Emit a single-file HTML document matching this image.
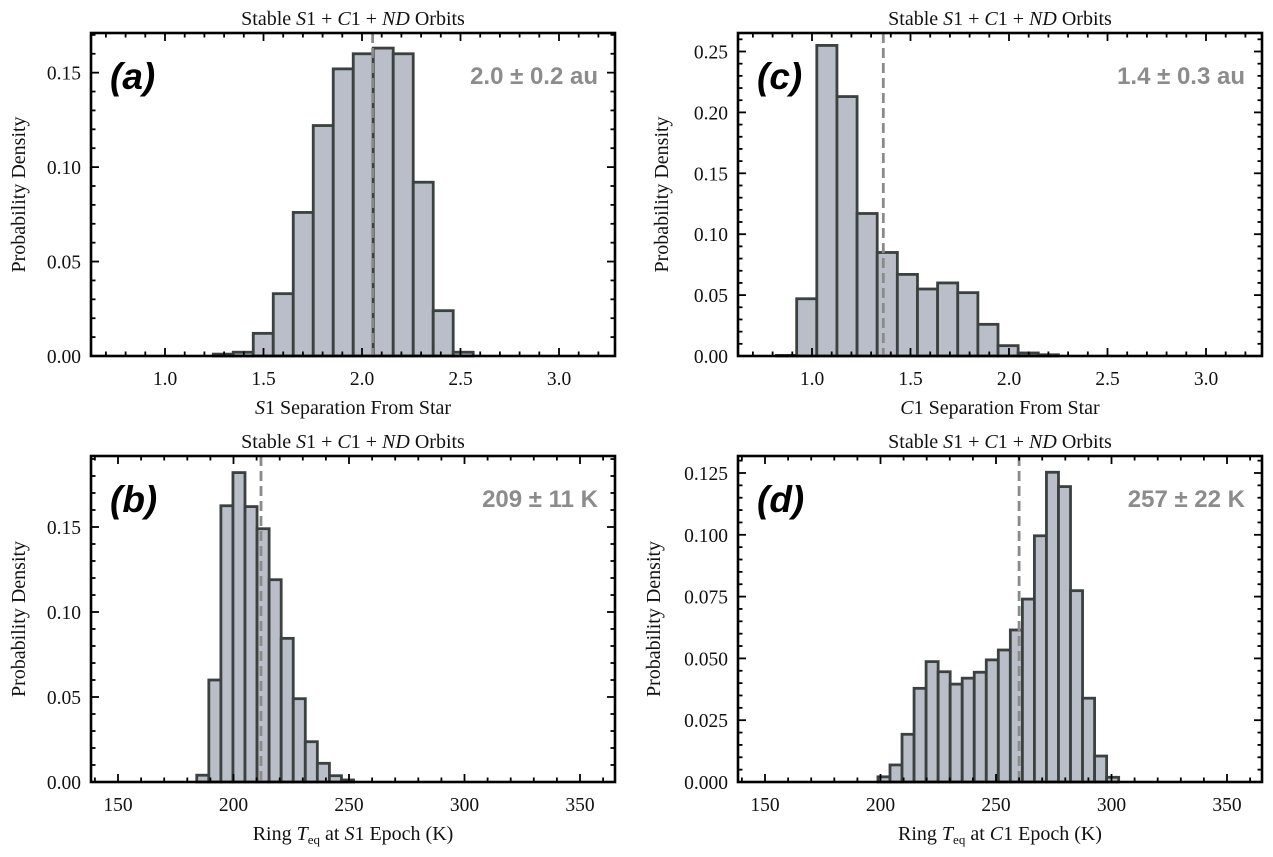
<!DOCTYPE html>
<html><head><meta charset="utf-8">
<style>
html,body{margin:0;padding:0;background:#fff;}
svg{display:block;}
.tk{font-family:"Liberation Serif",serif;font-size:19.5px;fill:#111;}
.ttl{font-family:"Liberation Serif",serif;font-size:20px;fill:#111;}
.pl{font-family:"Liberation Sans",sans-serif;font-weight:bold;font-style:italic;font-size:37px;fill:#000;}
.ann{font-family:"Liberation Sans",sans-serif;font-weight:bold;font-size:24px;fill:#8c8c8c;}
</style></head>
<body>
<svg id="fig" width="1273" height="857" viewBox="0 0 1273 857" xmlns="http://www.w3.org/2000/svg"></svg>
<script>
// Panel (a): S1 separation
const aStart = 1.245, aWidth = 0.1015;
const aValues = [0.001,0.002,0.012,0.033,0.076,0.122,0.152,0.160,0.163,0.160,0.092,0.024,0.002];
const aMedian = 2.054;
const aXTicks = [1.0,1.5,2.0,2.5,3.0];
const aYTicks = [0.00,0.05,0.10,0.15];
// Panel (c): C1 separation
const cStart = 0.82, cWidth = 0.1022;
const cValues = [0.0005,0.047,0.255,0.213,0.117,0.085,0.067,0.055,0.060,0.052,0.026,0.0085,0.0025,0.001];
const cMedian = 1.362;
const cXTicks = [1.0,1.5,2.0,2.5,3.0];
const cYTicks = [0.00,0.05,0.10,0.15,0.20,0.25];
// Panel (b): Teq at S1 epoch
const bStart = 184.1, bWidth = 5.22;
const bValues = [0.004,0.060,0.1625,0.182,0.162,0.149,0.119,0.0845,0.049,0.0237,0.011,0.0037,0.0012];
const bMedian = 211.9;
const bXTicks = [150,200,250,300,350];
const bYTicks = [0.00,0.05,0.10,0.15];
// Panel (d): Teq at C1 epoch
const dStart = 198.9, dWidth = 5.21;
const dValues = [0.0021,0.0069,0.0193,0.0379,0.0487,0.0446,0.0396,0.042,0.0444,0.0494,0.0534,0.0615,0.074,0.0996,0.1253,0.1195,0.0774,0.0339,0.0105,0.0019];
const dMedian = 260.0;
const dXTicks = [150,200,250,300,350];
const dYTicks = [0.000,0.025,0.050,0.075,0.100,0.125];

const NS = "http://www.w3.org/2000/svg";
const fig = document.getElementById('fig');
function el(tag, attrs, parent){const e=document.createElementNS(NS,tag);for(const k in attrs)e.setAttribute(k,attrs[k]);(parent||fig).appendChild(e);return e;}

function panel(cfg){
  const g = el('g',{});
  
  
  const L=cfg.L,R=cfg.R,T=cfg.T,B=cfg.B;
  const sx = v => cfg.x0px + (v-cfg.x0)*cfg.xs;
  const sy = v => B - v*cfg.ys;
  const xmin = cfg.x0 + (L-cfg.x0px)/cfg.xs, xmax = cfg.x0 + (R-cfg.x0px)/cfg.xs;
  const ymax = (B-T)/cfg.ys;
  cfg.values.forEach((v,i)=>{
    const x1 = sx(cfg.start + i*cfg.width), x2 = sx(cfg.start+(i+1)*cfg.width);
    const r = el('rect',{x:x1,y:sy(v),width:x2-x1,height:B-sy(v),fill:'#b9bec8',stroke:'#3a413e','stroke-width':2.8},g);
    
    
  });
  const m = el('line',{x1:sx(cfg.median),x2:sx(cfg.median),y1:T,y2:B,stroke:'#8a8a8a','stroke-width':2.8,'stroke-dasharray':'10 5'},g);
  
  
  const tk = el('g',{stroke:'#000','stroke-width':1.8},g);
  
  
  const n0 = Math.ceil(xmin/cfg.xminor-1e-6), n1 = Math.floor(xmax/cfg.xminor+1e-6);
  for(let n=n0;n<=n1;n++){
    const v=n*cfg.xminor, x=sx(v);
    const major = cfg.xticks.some(t=>Math.abs(t-v)<1e-6);
    const len = major?8:4.5;
    el('line',{x1:x,x2:x,y1:B,y2:B-len},tk); el('line',{x1:x,x2:x,y1:T,y2:T+len},tk);
  }
  const m1 = Math.floor(ymax/cfg.yminor+1e-6);
  for(let n=0;n<=m1;n++){
    const v=n*cfg.yminor, y=sy(v);
    const major = cfg.yticks.some(t=>Math.abs(t-v)<1e-6);
    const len = major?8:4.5;
    el('line',{x1:L,x2:L+len,y1:y,y2:y},tk); el('line',{x1:R,x2:R-len,y1:y,y2:y},tk);
  }
  const f = el('rect',{x:L,y:T,width:R-L,height:B-T,fill:'none',stroke:'#000','stroke-width':2.6},g);
  
  
  cfg.xticks.forEach(t=>{
    const e = el('text',{x:sx(t),y:B+29,'text-anchor':'middle',class:'tk'},g);
    e.textContent = t.toFixed(cfg.xdec);
    
    
  });
  cfg.yticks.forEach(t=>{
    const e = el('text',{x:L-10,y:sy(t)+7,'text-anchor':'end',class:'tk'},g);
    e.textContent = t.toFixed(cfg.ydec);
    
    
  });
  const ti = el('text',{x:(L+R)/2,y:T-8,'text-anchor':'middle',class:'ttl'},g);
  ti.innerHTML = 'Stable <tspan font-style="italic">S</tspan>1 + <tspan font-style="italic">C</tspan>1 + <tspan font-style="italic">ND</tspan> Orbits';
  
  
  const xl = el('text',{x:(L+R)/2,y:B+58,'text-anchor':'middle',class:'ttl'},g);
  xl.innerHTML = cfg.xlabel;
  
  
  const yl = el('text',{x:0,y:0,'text-anchor':'middle',class:'ttl',transform:'translate('+(cfg.ylx)+','+((T+B)/2)+') rotate(-90)'},g);
  yl.textContent = 'Probability Density';
  
  
  const pl = el('text',{x:L+19,y:T+56,class:'pl'},g);
  pl.textContent = '('+cfg.id+')';
  
  
  const an = el('text',{x:R-17,y:T+51,'text-anchor':'end',class:'ann'},g);
  an.textContent = cfg.ann;
  
  
}

panel({id:'a',L:91,R:615,T:33,B:356,x0:1.0,x0px:165,xs:197,ys:1889,start:aStart,width:aWidth,values:aValues,median:aMedian,
  xticks:aXTicks,yticks:aYTicks,xminor:0.1,yminor:0.01,xdec:1,ydec:2,ylx:25,
  xlabel:'<tspan font-style="italic">S</tspan>1 Separation From Star',ann:'2.0 \u00b1 0.2 au'});
panel({id:'c',L:738,R:1262,T:33,B:356,x0:1.0,x0px:812,xs:197,ys:1218,start:cStart,width:cWidth,values:cValues,median:cMedian,
  xticks:cXTicks,yticks:cYTicks,xminor:0.1,yminor:0.01,xdec:1,ydec:2,ylx:668,
  xlabel:'<tspan font-style="italic">C</tspan>1 Separation From Star',ann:'1.4 \u00b1 0.3 au'});
panel({id:'b',L:91,R:615,T:456,B:782,x0:150,x0px:118,xs:2.31,ys:1700,start:bStart,width:bWidth,values:bValues,median:bMedian,
  xticks:bXTicks,yticks:bYTicks,xminor:10,yminor:0.01,xdec:0,ydec:2,ylx:25,
  xlabel:'Ring <tspan font-style="italic">T</tspan><tspan font-size="13" dy="4">eq</tspan><tspan dy="-4"> at </tspan><tspan font-style="italic">S</tspan>1 Epoch (K)',ann:'209 \u00b1 11 K'});
panel({id:'d',L:738,R:1262,T:456,B:782,x0:150,x0px:765,xs:2.31,ys:2472,start:dStart,width:dWidth,values:dValues,median:dMedian,
  xticks:dXTicks,yticks:dYTicks,xminor:10,yminor:0.005,xdec:0,ydec:3,ylx:660,
  xlabel:'Ring <tspan font-style="italic">T</tspan><tspan font-size="13" dy="4">eq</tspan><tspan dy="-4"> at </tspan><tspan font-style="italic">C</tspan>1 Epoch (K)',ann:'257 \u00b1 22 K'});
</script>
</body></html>
